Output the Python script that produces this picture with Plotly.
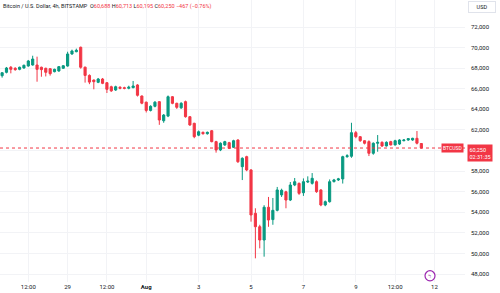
import pandas as pd
import plotly.graph_objects as go

# ---- data (BTC/USD 4h, Bitstamp) ----
times = pd.date_range("2024-07-26 12:00", periods=97, freq="4h")

opens = [67270, 67600, 68090, 67990, 67890, 68020, 68210, 68310, 68310, 68090,
         67990, 67950, 67660, 67730, 67990, 68210, 69380, 69600, 70030, 68100,
         67300, 66850, 66630, 66950, 66590, 66200, 65880, 66150, 66100, 66050,
         66110, 66370, 65300, 64700, 63900, 64300, 64750, 62900, 63350, 65230,
         64590, 64150, 64750, 63290, 62650, 61500, 61770, 61640, 61930, 60870,
         60060, 60550, 60770, 60320, 61030, 58440, 59410, 58120, 53910, 52610,
         51320, 54500, 53300, 54200, 55700, 56000, 55200, 56660, 56820, 55910,
         56950, 56820, 56980, 56180, 54720, 55040, 56990, 57150, 57250, 59410,
         59450, 61740, 61350, 60960, 60870, 59740, 60710, 60800, 60450, 60870,
         60550, 60640, 60960, 61030, 61030, 61190, 60688]
highs = [67600, 68120, 68210, 68100, 68150, 68350, 68800, 69210, 69120, 68150,
         68050, 68000, 67950, 68200, 68300, 69600, 69800, 69900, 70100, 68150,
         67400, 66900, 67050, 67050, 66650, 66300, 66300, 66250, 66200, 66300,
         66760, 66450, 65350, 64750, 64400, 64800, 64800, 63550, 65350, 65300,
         64650, 64700, 64850, 63350, 62700, 61950, 61850, 61850, 62000, 60950,
         60800, 60950, 60850, 61050, 61100, 59350, 59500, 58200, 54400, 52800,
         54700, 55500, 55400, 56470, 56300, 56100, 56950, 57340, 56900, 57300,
         57500, 57820, 57100, 56250, 55150, 57200, 57250, 57350, 59500, 59650,
         62700, 61900, 61400, 61000, 61000, 60800, 61510, 60900, 60900, 60950,
         61050, 61100, 61100, 61200, 61250, 61900, 60713]
lows = [67080, 67500, 67500, 67750, 67800, 67950, 68150, 68250, 66690, 67170,
        67200, 67280, 67600, 67650, 67950, 68150, 69300, 69550, 67950, 66600,
        66450, 65950, 66550, 66450, 65590, 65700, 65800, 65950, 65950, 65950,
        66050, 65250, 64500, 63700, 63800, 64200, 62500, 62700, 63250, 64500,
        64050, 64050, 63200, 62400, 61200, 61400, 61550, 61550, 60800, 59800,
        59950, 60450, 60150, 60250, 58800, 57140, 58000, 53100, 49540, 50510,
        49700, 52600, 52800, 54100, 55500, 54400, 55100, 56550, 55700, 55600,
        56850, 56700, 55900, 54600, 54600, 54950, 56900, 57050, 56800, 59300,
        59300, 61200, 60850, 60600, 59470, 59600, 59890, 60350, 60400, 60500,
        60500, 60550, 60900, 60950, 60950, 60600, 60195]
closes = [67560, 68020, 67890, 67860, 68090, 68280, 68700, 68890, 67890, 67860,
          67600, 67470, 67890, 68150, 68240, 69380, 69670, 69740, 68090, 67300,
          66650, 66690, 66950, 66530, 65950, 65800, 66200, 66050, 66050, 66150,
          66270, 65370, 64600, 63900, 64300, 64700, 62970, 63450, 65230, 64590,
          64200, 64590, 63290, 62490, 61350, 61830, 61640, 61770, 60870, 60060,
          60710, 60870, 60220, 60960, 58920, 59250, 58120, 53750, 52610, 51320,
          54500, 53260, 54200, 56180, 56150, 55200, 56660, 56980, 55850, 56980,
          57030, 57310, 56010, 54720, 55040, 56980, 57150, 57250, 59410, 59500,
          61740, 61350, 60960, 60710, 59740, 60710, 60800, 60450, 60800, 60550,
          60960, 61030, 61030, 61160, 61190, 60717, 60250]

x_tickvals = ["2024-07-27 12:00", "2024-07-29 00:00", "2024-07-30 12:00", "2024-08-01 00:00",
              "2024-08-03 00:00", "2024-08-05 00:00", "2024-08-07 00:00", "2024-08-09 00:00",
              "2024-08-10 12:00", "2024-08-12 00:00"]
x_ticktext = ["12:00", "29", "12:00", "<b>Aug</b>", "3", "5", "7", "9", "12:00", "12"]
y_tickvals = list(range(48000, 72001, 2000))
last_price = 60250
# the 60,000 label is hidden behind the last-price tag in the reference
y_ticktext = ["" if v == 60000 else f"{v:,}" for v in y_tickvals]

GREEN = "#089981"
RED = "#f23645"
TXT = "#131722"
GRID = "#f2f3f6"
FONT = "Roboto"

fig = go.Figure(go.Candlestick(
    x=times, open=opens, high=highs, low=lows, close=closes,
    increasing=dict(line=dict(color=GREEN, width=1), fillcolor=GREEN),
    decreasing=dict(line=dict(color=RED, width=1), fillcolor=RED),
    whiskerwidth=0, hoverinfo="skip",
))

fig.update_layout(
    width=500, height=293,
    margin=dict(l=0, r=35, t=0, b=11),
    paper_bgcolor="white", plot_bgcolor="white",
    showlegend=False,
    font=dict(family=FONT, size=6, color=TXT),
    xaxis=dict(
        type="date", range=["2024-07-26 10:04", "2024-08-13 04:00"],
        tickvals=x_tickvals, ticktext=x_ticktext,
        showgrid=True, gridcolor=GRID, gridwidth=1,
        zeroline=False, showline=False, ticks="",
        rangeslider=dict(visible=False),
        tickfont=dict(family=FONT, size=6, color=TXT),
    ),
    yaxis=dict(
        side="right", range=[47242, 74621],
        tickvals=y_tickvals, ticktext=y_ticktext,
        showgrid=True, gridcolor=GRID, gridwidth=1,
        zeroline=False, showline=False, ticks="",
        ticklabelstandoff=5,
        tickfont=dict(family=FONT, size=6, color=TXT),
    ),
    shapes=[
        dict(type="line", xref="paper", x0=0, x1=1, yref="y", y0=last_price, y1=last_price,
             line=dict(color=RED, width=1, dash="dot")),
        dict(type="circle", xref="paper", yref="paper",
             x0=0.9140, x1=0.9355, y0=0.004, y1=0.040,
             line=dict(color="#9c27b0", width=1.2), fillcolor="white"),
    ],
    annotations=[
        dict(xref="paper", yref="paper", x=0.003, y=0.997, xanchor="left", yanchor="top",
             showarrow=False, font=dict(family=FONT, size=5.5, color=TXT),
             text=("Bitcoin / U.S. Dollar, 4h, BITSTAMP  "
                   f"O<span style='color:{RED}'>60,688</span> "
                   f"H<span style='color:{RED}'>60,713</span> "
                   f"L<span style='color:{RED}'>60,195</span> "
                   f"C<span style='color:{RED}'>60,250</span> "
                   f"<span style='color:{RED}'>−467 (−0.76%)</span>")),
        dict(xref="paper", yref="y", x=0.998, y=last_price, xanchor="right", yanchor="middle",
             showarrow=False, text="BTCUSD", bgcolor=RED, borderpad=1,
             font=dict(family=FONT, size=5, color="white")),
        dict(xref="paper", yref="y", x=1.0, y=last_price, xanchor="left", yanchor="top",
             xshift=2, yshift=4, showarrow=False, align="left",
             text=f"{last_price:,}<br>02:31:35", bgcolor=RED, borderpad=1.5,
             font=dict(family=FONT, size=5.5, color="white")),
        dict(xref="paper", yref="paper", x=1.0355, y=0.976, xanchor="center", yanchor="middle",
             showarrow=False, text="USD", bgcolor="white", bordercolor="#e0e3eb",
             borderwidth=1, borderpad=2, width=22,
             font=dict(family=FONT, size=5.5, color=TXT)),
        dict(xref="paper", yref="paper", x=0.9247, y=0.022, xanchor="center", yanchor="middle",
             showarrow=False, text="ϟ", font=dict(family=FONT, size=7, color="#9c27b0")),
    ],
)

fig.write_html("out.html")
